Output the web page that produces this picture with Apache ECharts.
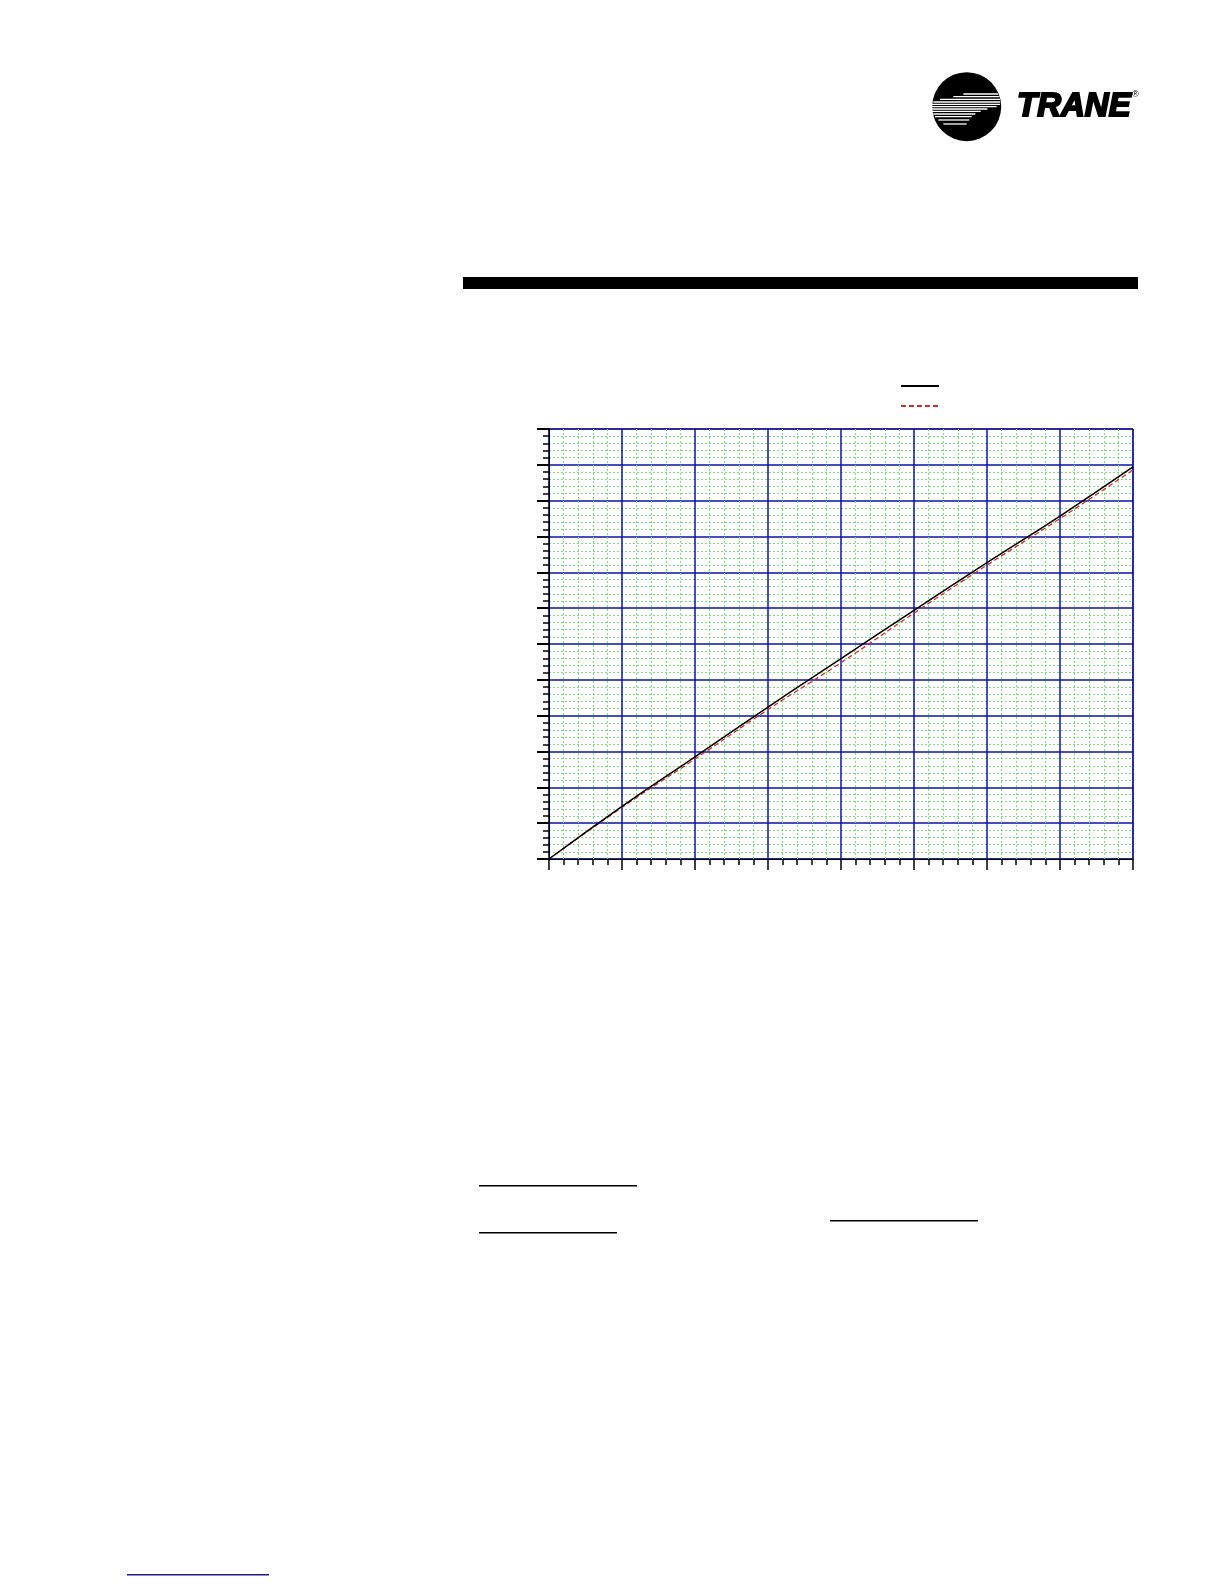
<!DOCTYPE html>
<html>
<head>
<meta charset="utf-8">
<script src="https://cdn.jsdelivr.net/npm/echarts@6/dist/echarts.min.js"></script>
<style>
html,body{margin:0;padding:0;background:#fff;}
#chart{width:1224px;height:1584px;}
</style>
</head>
<body>
<div id="chart"></div>
<script>
// ---- data ----
const xValues = [0, 1, 2, 3, 4, 5, 6, 7, 8];
const solidSeries = [0, 1.47, 2.85, 4.24, 5.59, 6.94, 8.27, 9.57, 10.94];
const dashedSeries = [0, 1.44, 2.79, 4.17, 5.48, 6.86, 8.20, 9.50, 10.86];
const seriesNames = ['Series 1', 'Series 2'];
const xRange = [0, 8];
const yRange = [0, 12];

const chart = echarts.init(document.getElementById('chart'), null, {renderer: 'canvas'});

// logo stripes (white lines inside the black disc)
const stripes = [
  [100, 190, 295], [108, 160, 298], [116, 120, 300], [124, 100, 300],
  [131, 95, 300], [138, 93, 290], [145, 93, 262], [152, 95, 242],
  [160, 100, 226], [168, 105, 215], [178, 115, 208], [190, 130, 200]
];
const stripeEls = stripes.map(s => ({
  type: 'rect',
  shape: {x: 900 + s[1] / 3, y: 60 + s[0] / 3, width: (s[2] - s[1]) / 3, height: 1.3},
  style: {fill: '#fff'}
}));

const option = {
  backgroundColor: '#fff',
  animation: false,
  grid: {
    left: 549, top: 429, width: 584, height: 430,
    show: true, borderColor: '#000', borderWidth: 1, backgroundColor: 'transparent'
  },
  legend: {
    left: 895, top: 376, orient: 'vertical', itemWidth: 38, itemHeight: 10, itemGap: 11,
    formatter: () => '', data: seriesNames, selectedMode: false,
    itemStyle: {opacity: 0}
  },
  xAxis: {
    type: 'value', min: xRange[0], max: xRange[1], interval: 1,
    axisLine: {show: true, lineStyle: {color: '#000', width: 1}},
    axisTick: {show: true, inside: false, length: 11, lineStyle: {color: '#000', width: 1.5}},
    minorTick: {show: true, splitNumber: 5, length: 6, lineStyle: {color: '#000', width: 1.5}},
    axisLabel: {show: false},
    splitLine: {show: true, lineStyle: {color: '#0a10a8', width: 1.5}},
    minorSplitLine: {show: true, lineStyle: {color: '#7ddc7d', width: 1, type: [2, 2]}}
  },
  yAxis: {
    type: 'value', min: yRange[0], max: yRange[1], interval: 1,
    axisLine: {show: true, lineStyle: {color: '#000', width: 1}},
    axisTick: {show: true, inside: false, length: 12, lineStyle: {color: '#000', width: 2}},
    minorTick: {show: true, splitNumber: 5, length: 6, lineStyle: {color: '#000', width: 1.5}},
    axisLabel: {show: false},
    splitLine: {show: true, lineStyle: {color: '#0a10a8', width: 1.5}},
    minorSplitLine: {show: true, lineStyle: {color: '#7ddc7d', width: 1, type: [2, 2]}}
  },
  series: [
    {
      name: seriesNames[0], type: 'line', symbol: 'none', smooth: true, z: 4,
      data: xValues.map((x, i) => [x, solidSeries[i]]),
      lineStyle: {color: '#000', width: 1.5}, itemStyle: {color: '#000'}
    },
    {
      name: seriesNames[1], type: 'line', symbol: 'none', smooth: true, z: 3,
      data: xValues.map((x, i) => [x, dashedSeries[i]]),
      lineStyle: {color: '#d0302c', width: 1.3, type: [5, 3]}, itemStyle: {color: '#d0302c'}
    }
  ],
  graphic: [
    {type: 'circle', shape: {cx: 966.7, cy: 106.7, r: 34.5}, style: {fill: '#000'}},
    ...stripeEls,
    {type: 'text', left: 1016, top: 89, style: {
      text: 'TRANE', fill: '#000', stroke: '#000', lineWidth: 2,
      font: 'italic 900 33px "Liberation Sans", Arial, sans-serif'
    }},
    {type: 'text', left: 1132, top: 90, style: {
      text: '®', fill: '#000', font: '9px "Liberation Sans", Arial, sans-serif'
    }},
    {type: 'rect', shape: {x: 463, y: 277, width: 675, height: 12}, style: {fill: '#000'}},
    {type: 'rect', shape: {x: 479, y: 1185, width: 158, height: 1.6}, style: {fill: '#000'}},
    {type: 'rect', shape: {x: 479, y: 1232, width: 138, height: 1.6}, style: {fill: '#000'}},
    {type: 'rect', shape: {x: 830, y: 1220, width: 148, height: 1.6}, style: {fill: '#000'}},
    {type: 'rect', shape: {x: 127, y: 1574, width: 142, height: 1.6}, style: {fill: '#1a1a8c'}}
  ]
};
chart.setOption(option);
</script>
</body>
</html>
